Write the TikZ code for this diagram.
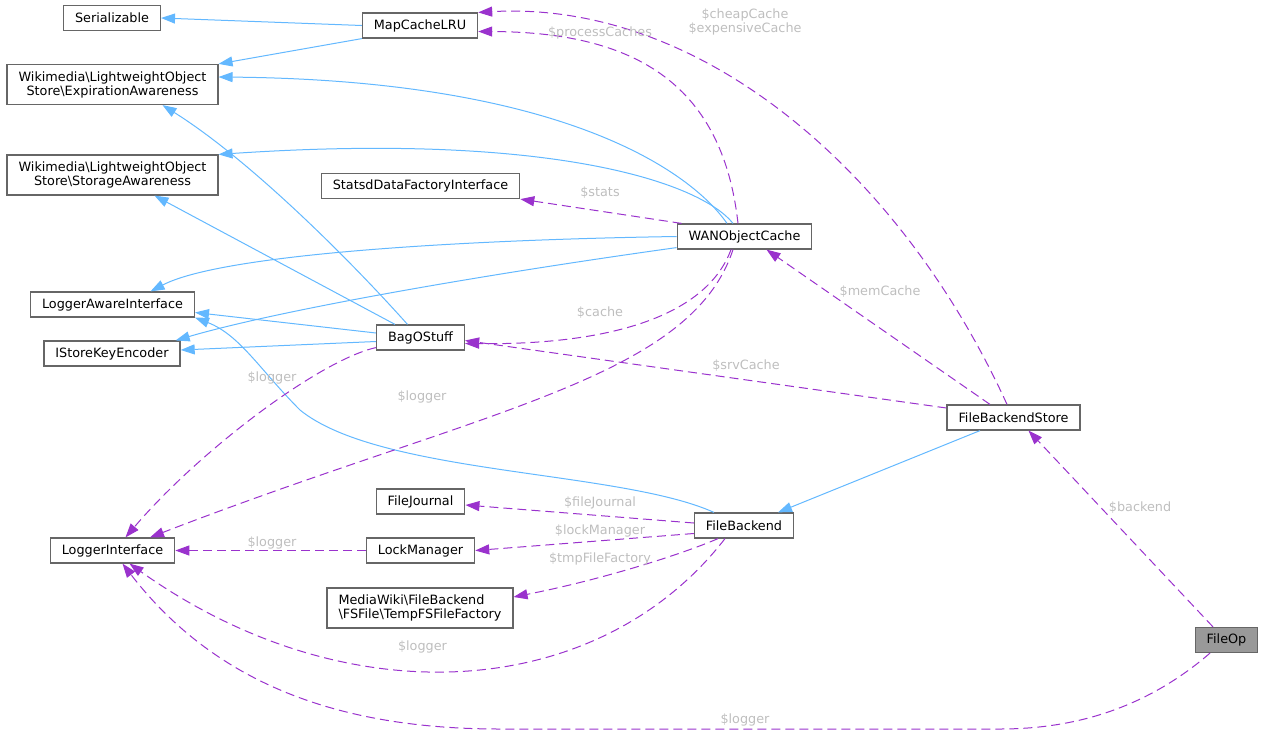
\documentclass[tikz,border=0pt]{standalone}
\usepackage{fontspec}
\setmainfont{DejaVu Sans}
\usetikzlibrary{arrows.meta}

\definecolor{inhblue}{HTML}{63B8FF}
\definecolor{usepurple}{HTML}{9A32CD}
\definecolor{lblgray}{HTML}{BEBEBE}
\definecolor{boxgray}{HTML}{666666}
\definecolor{focusgray}{HTML}{999999}

\begin{document}
\begin{tikzpicture}[x=1pt, y=-1pt,
						block/.style={draw=boxgray, line width=1.2pt, rectangle, fill=white, inner xsep=11.5pt, inner ysep=2pt, minimum height=25pt, font=\fontsize{12.8}{14}\selectfont, align=center},
						tall/.style={minimum height=40pt},
						inherit/.style={draw=inhblue, line width=1pt, -{Triangle[length=14pt, width=10pt]}},
						uses/.style={draw=usepurple, line width=1pt, dash pattern=on 9pt off 5pt, -{Triangle[length=14pt, width=10pt]}},
						edgelabel/.style={text=lblgray, font=\fontsize{12.8}{14}\selectfont, align=center, inner sep=0pt}]
		\useasboundingbox (0,0) rectangle (1264,734);

		\node (serial) [block] at (112,18) {Serializable};
		\node (mapcache) [block] at (420,25.5) {MapCacheLRU};
		\node (expire) [block,tall] at (112.5,84.5) {Wikimedia\textbackslash LightweightObject\\Store\textbackslash ExpirationAwareness};
		\node (storage) [block,tall] at (112.5,175) {Wikimedia\textbackslash LightweightObject\\Store\textbackslash StorageAwareness};
		\node (statsd) [block] at (420.5,186) {StatsdDataFactoryInterface};
		\node (wancache) [block] at (744.5,236.5) {WANObjectCache};
		\node (logaware) [block] at (112.5,304.5) {LoggerAwareInterface};
		\node (keyenc) [block] at (112,353.5) {IStoreKeyEncoder};
		\node (bag) [block] at (420.5,337.5) {BagOStuff};
		\node (store) [block] at (1013.5,417.5) {FileBackendStore};
		\node (journal) [block] at (420.5,501.5) {FileJournal};
		\node (backend) [block] at (744,525.5) {FileBackend};
		\node (logger) [block] at (112.5,550.5) {LoggerInterface};
		\node (lockmgr) [block] at (420.5,550.5) {LockManager};
		\node (tmpfactory) [block,tall,align=left] at (420,608) {MediaWiki\textbackslash FileBackend\\\textbackslash FSFile\textbackslash TempFSFileFactory};
		\node (fileop) [block,fill=focusgray] at (1226.5,640) {FileOp};

		\path 	(mapcache.west) edge[inherit] (serial.east)
				(mapcache.south west) edge[inherit] (expire.north east)
				([xshift=-25.5pt]bag.north) edge[inherit] ([xshift=42pt]storage.south)
				([yshift=4.5pt]bag.west) edge[inherit] ([yshift=-8pt]logaware.east)
				([yshift=-4pt]bag.west) edge[inherit] ([yshift=3.5pt]keyenc.east)
				([xshift=-33.5pt]store.south) edge[inherit] ([xshift=34pt]backend.north);
		\draw[inherit] ([xshift=-17.5pt]wancache.north) .. controls (690,170) and (560,80) .. ([yshift=7.5pt]expire.east);
		\draw[inherit] ([xshift=-11.5pt]wancache.north) .. controls (700,182) and (550,132) .. (storage.north east);
		\draw[inherit] (wancache.west) .. controls (450,240) and (220,255) .. ([xshift=38pt]logaware.north);
		\draw[inherit] ([yshift=2pt]wancache.south west) .. controls (480,275) and (280,310) .. ([xshift=-5pt]keyenc.north east);
		\draw[inherit] ([xshift=-13pt]bag.north) .. controls (350,260) and (250,160) .. ([xshift=50pt]expire.south);
		\draw[inherit] ([xshift=-30pt]backend.north) .. controls (620,470) and (380,475) .. (300,410) .. controls (260,370) and (240,335) .. (logaware.south east);

		\path 	([xshift=5pt]wancache.north west) edge[uses] (statsd.south east)
				([xshift=-23.5pt]store.north) edge[uses] ([xshift=22pt]wancache.south)
				([yshift=9.5pt]store.west) edge[uses] ([yshift=-3pt]bag.east)
				([yshift=2.5pt]backend.west) edge[uses] ([yshift=-3.5pt]journal.east)
				([yshift=-8pt]backend.west) edge[uses] (lockmgr.east)
				(lockmgr.west) edge[uses] (logger.east)
				([xshift=-13.5pt]fileop.north) edge[uses] ([xshift=15pt]store.south);
		\draw[uses] ([xshift=-6.5pt]wancache.north) .. controls (722,80) and (630,32) .. ([yshift=-6pt]mapcache.east);
		\draw[uses] ([xshift=-6.5pt]store.north) .. controls (900,170) and (700,0) .. (mapcache.north east);
		\draw[uses] ([xshift=-13.5pt]wancache.south) .. controls (705,320) and (600,345) .. ([yshift=-6pt]bag.east);
		\draw[uses] ([yshift=3pt]bag.south west) .. controls (320,360) and (200,450) .. ([xshift=13pt]logger.north);
		\draw[uses] ([xshift=-11.5pt]wancache.south) .. controls (690,380) and (480,410) .. ([xshift=37.5pt]logger.north);
		\draw[uses] ([xshift=-26pt]backend.south) .. controls (680,555) and (600,580) .. ([yshift=11pt]tmpfactory.east);
		\draw[uses] ([xshift=-19pt]backend.south) .. controls (600,700) and (350,720) .. ([xshift=17pt]logger.south);
		\draw[uses] ([xshift=-16.5pt]fileop.south) .. controls (1150,705) and (1080,729) .. (1000,729) -- (500,729) .. controls (350,729) and (220,690) .. ([xshift=10pt]logger.south);

		\node (l-process) [edgelabel] at (600,33) {\$processCaches};
		\node (l-cheap) [edgelabel] at (745,22) {\$cheapCache\\\$expensiveCache};
		\node (l-stats) [edgelabel] at (600,193) {\$stats};
		\node (l-cache) [edgelabel] at (600,312.5) {\$cache};
		\node (l-mem) [edgelabel] at (880,292) {\$memCache};
		\node (l-srv) [edgelabel] at (746,365.5) {\$srvCache};
		\node (l-baglog) [edgelabel] at (272,377.5) {\$logger};
		\node (l-wanlog) [edgelabel] at (422,396.5) {\$logger};
		\node (l-journal) [edgelabel] at (600,502.5) {\$fileJournal};
		\node (l-lock) [edgelabel] at (600,530.5) {\$lockManager};
		\node (l-tmp) [edgelabel] at (600,559) {\$tmpFileFactory};
		\node (l-locklog) [edgelabel] at (272,542.5) {\$logger};
		\node (l-fblog) [edgelabel] at (422.5,646.5) {\$logger};
		\node (l-backend) [edgelabel] at (1140,508) {\$backend};
		\node (l-oplog) [edgelabel] at (745,719.5) {\$logger};
	\end{tikzpicture}
\end{document}
